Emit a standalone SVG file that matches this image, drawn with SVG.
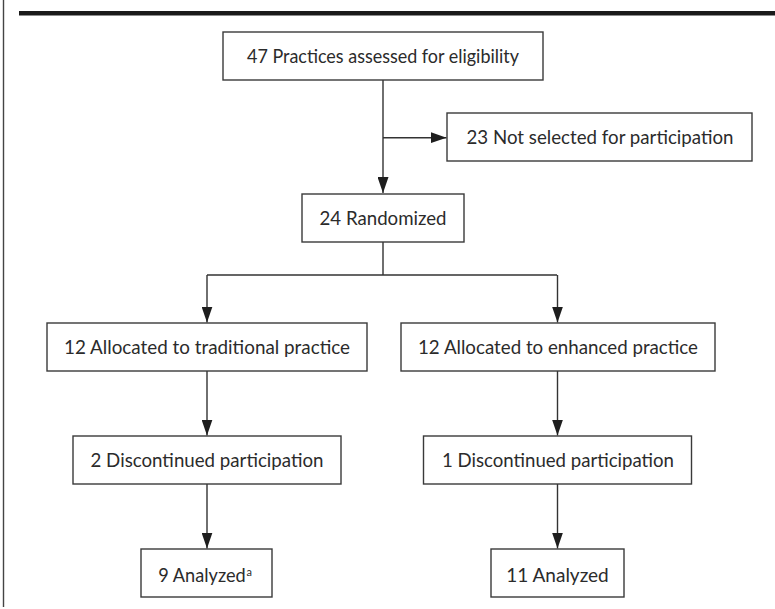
<svg xmlns="http://www.w3.org/2000/svg" width="775" height="609" viewBox="0 0 775 609">
<style>
.box{fill:#fff;stroke:#3a3a3a;stroke-width:1.4}
.lbl{font-family:Lato,"Liberation Sans",sans-serif;font-size:19px;fill:#2b2b2b;text-anchor:middle}
.con{fill:none;stroke:#333;stroke-width:1.4}
</style>
<defs>
<marker id="ah" markerUnits="userSpaceOnUse" markerWidth="17" markerHeight="11" viewBox="0 0 17 11" refX="16" refY="5.5" orient="auto">
<path d="M0,0 L16,5.5 L0,11 Z" fill="#1e1e1e"/>
</marker>
</defs>
<rect width="775" height="609" fill="#fff"/>
<rect x="19" y="11" width="756" height="4.5" fill="#1a1a1a"/>
<line x1="3.5" y1="0" x2="3.5" y2="607" stroke="#444" stroke-width="1.4"/>
<g id="connectors">
<path class="con" d="M383 80 V193" marker-end="url(#ah)"/>
<path class="con" d="M383 137.7 H446.5" marker-end="url(#ah)"/>
<path class="con" d="M383 242 V275 M207 275 H557"/>
<path class="con" d="M207 275 V322.5" marker-end="url(#ah)"/>
<path class="con" d="M557.5 275 V322.5" marker-end="url(#ah)"/>
<path class="con" d="M207 371 V435.5" marker-end="url(#ah)"/>
<path class="con" d="M557.5 371 V435.5" marker-end="url(#ah)"/>
<path class="con" d="M207 484 V548.5" marker-end="url(#ah)"/>
<path class="con" d="M557.5 484 V548.5" marker-end="url(#ah)"/>
</g>
<g id="n1"><rect class="box" x="223" y="32" width="320" height="48"/><text class="lbl" x="383" y="63" textLength="272" lengthAdjust="spacingAndGlyphs">47 Practices assessed for eligibility</text></g>
<g id="n2"><rect class="box" x="447" y="113" width="305" height="48"/><text class="lbl" x="600" y="144" textLength="267" lengthAdjust="spacingAndGlyphs">23 Not selected for participation</text></g>
<g id="n3"><rect class="box" x="302" y="194" width="162" height="48"/><text class="lbl" x="383" y="225" textLength="127" lengthAdjust="spacingAndGlyphs">24 Randomized</text></g>
<g id="n4"><rect class="box" x="47" y="323" width="320" height="48"/><text class="lbl" x="207" y="354" textLength="286" lengthAdjust="spacingAndGlyphs">12 Allocated to traditional practice</text></g>
<g id="n5"><rect class="box" x="401" y="323" width="314" height="48"/><text class="lbl" x="558" y="354" textLength="280" lengthAdjust="spacingAndGlyphs">12 Allocated to enhanced practice</text></g>
<g id="n6"><rect class="box" x="73" y="436" width="268" height="48"/><text class="lbl" x="207" y="467" textLength="233" lengthAdjust="spacingAndGlyphs">2 Discontinued participation</text></g>
<g id="n7"><rect class="box" x="423.5" y="436" width="268" height="48"/><text class="lbl" x="558" y="467" textLength="232" lengthAdjust="spacingAndGlyphs">1 Discontinued participation</text></g>
<g id="n8"><rect class="box" x="141" y="549" width="131" height="48"/><text class="lbl" x="158.3" y="581.5" style="text-anchor:start"><tspan textLength="87.4" lengthAdjust="spacingAndGlyphs">9 Analyzed</tspan><tspan x="246.5" dy="-6" font-size="11">a</tspan></text></g>
<g id="n9"><rect class="box" x="491" y="549" width="133" height="48"/><text class="lbl" x="557.5" y="581.5">11 Analyzed</text></g>
</svg>
